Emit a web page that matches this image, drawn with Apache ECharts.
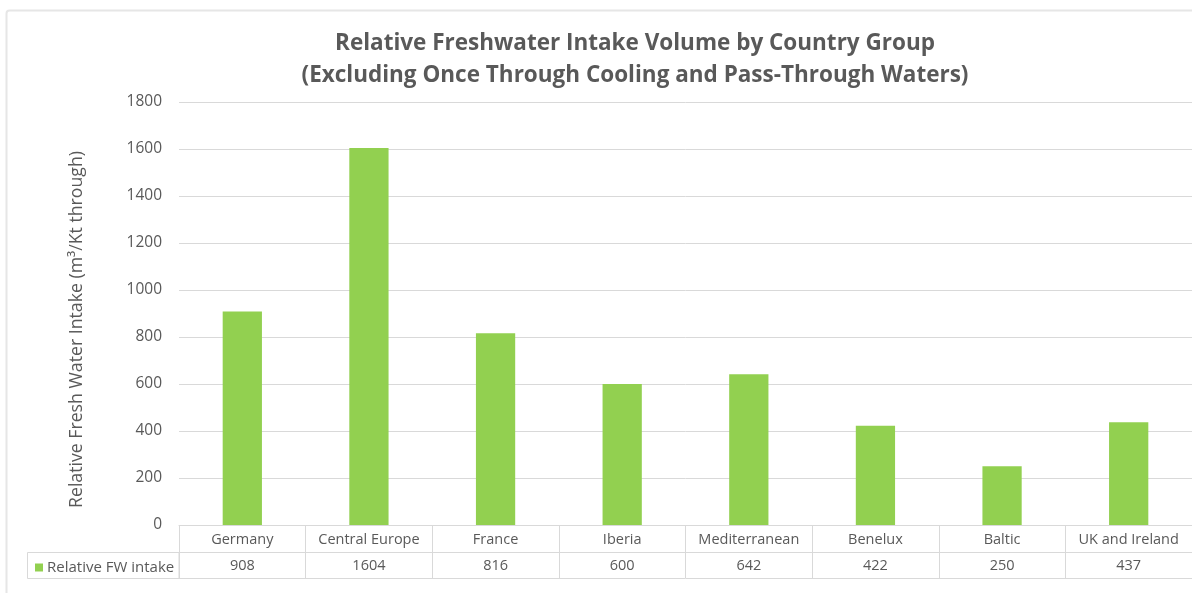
<!DOCTYPE html>
<html>
<head>
<meta charset="utf-8">
<script src="https://cdn.jsdelivr.net/npm/echarts@6/dist/echarts.min.js"></script>
<style>
  html, body { margin: 0; padding: 0; background: #ffffff; }
  #chart { width: 1192px; height: 593px; }
</style>
</head>
<body>
<div id="chart"></div>
<script>
// Country groups and their relative freshwater intake (m3 per kt throughput)
const categories = ['Germany', 'Central Europe', 'France', 'Iberia', 'Mediterranean', 'Benelux', 'Baltic', 'UK and Ireland'];
const intakeValues = [908, 1604, 816, 600, 642, 422, 250, 437];
const seriesName = 'Relative FW intake';
const yTicks = { min: 0, max: 1800, interval: 200 };

const FONT = '"Open Sans", Lato, sans-serif';
const TEXT = '#595959';
const LINE = '#d9d9d9';
const GREEN = '#92d050';

const chart = echarts.init(document.getElementById('chart'), null, { renderer: 'canvas' });

chart.setOption({
  backgroundColor: '#ffffff',
  animation: false,
  textStyle: { fontFamily: FONT, color: TEXT },
  title: {
    text: 'Relative Freshwater Intake Volume by Country Group\n(Excluding Once Through Cooling and Pass-Through Waters)',
    left: 630,
    textAlign: 'center',
    top: 23,
    textStyle: { fontFamily: FONT, fontSize: 22.5, fontWeight: 'bold', color: TEXT, lineHeight: 32 }
  },
  legend: {
    data: [{ name: seriesName, icon: 'rect' }],
    left: 30,
    top: 555,
    itemWidth: 8,
    itemHeight: 8,
    itemGap: 4,
    textStyle: { fontFamily: FONT, fontSize: 15, color: TEXT, padding: [0, 0, 0, -1] }
  },
  grid: { left: 179, top: 102, width: 1018, bottom: 68, containLabel: false },
  xAxis: [
    {
      // category names row of the data table
      type: 'category',
      data: categories,
      position: 'bottom',
      axisLine: { show: true, lineStyle: { color: LINE, width: 1 } },
      axisTick: { show: true, length: 53, alignWithLabel: false, interval: 0, lineStyle: { color: LINE, width: 1 } },
      axisLabel: { interval: 0, margin: 7, fontFamily: FONT, fontSize: 14.5, color: TEXT }
    },
    {
      // values row of the data table
      type: 'category',
      data: intakeValues.map(String),
      position: 'bottom',
      offset: 27,
      axisLine: { show: true, lineStyle: { color: LINE, width: 1 } },
      axisTick: { show: false },
      axisLabel: { interval: 0, margin: 6, fontFamily: FONT, fontSize: 14.5, color: TEXT }
    },
    {
      // bottom border of the data table
      type: 'category',
      data: categories,
      position: 'bottom',
      offset: 53,
      axisLine: { show: true, lineStyle: { color: LINE, width: 1 } },
      axisTick: { show: false },
      axisLabel: { show: false }
    }
  ],
  yAxis: {
    type: 'value',
    min: yTicks.min,
    max: yTicks.max,
    interval: yTicks.interval,
    name: 'Relative Fresh Water Intake (m\u00b3/Kt through)',
    nameLocation: 'middle',
    nameRotate: 90,
    nameGap: 93,
    nameTextStyle: { fontFamily: FONT, fontSize: 17.7, color: TEXT, padding: [0, 32, 0, 0] },
    axisLine: { show: false },
    axisTick: { show: false },
    axisLabel: { margin: 17, fontFamily: FONT, fontSize: 15.5, color: TEXT, formatter: v => String(v) },
    splitLine: { show: true, lineStyle: { color: LINE, width: 1 } }
  },
  series: [
    {
      name: seriesName,
      type: 'bar',
      xAxisIndex: 0,
      data: intakeValues,
      barWidth: '31%',
      itemStyle: { color: GREEN }
    }
  ],
  graphic: [
    {
      // outer chart frame
      type: 'rect',
      silent: true,
      shape: { x: 6.5, y: 10.5, width: 1200, height: 600, r: 3 },
      style: { fill: 'none', stroke: '#e6e6e6', lineWidth: 2 }
    },
    {
      // legend cell of the data table
      type: 'rect',
      silent: true,
      shape: { x: 27.5, y: 552.5, width: 151.5, height: 26 },
      style: { fill: 'none', stroke: LINE, lineWidth: 1 }
    }
  ]
});
</script>
</body>
</html>
